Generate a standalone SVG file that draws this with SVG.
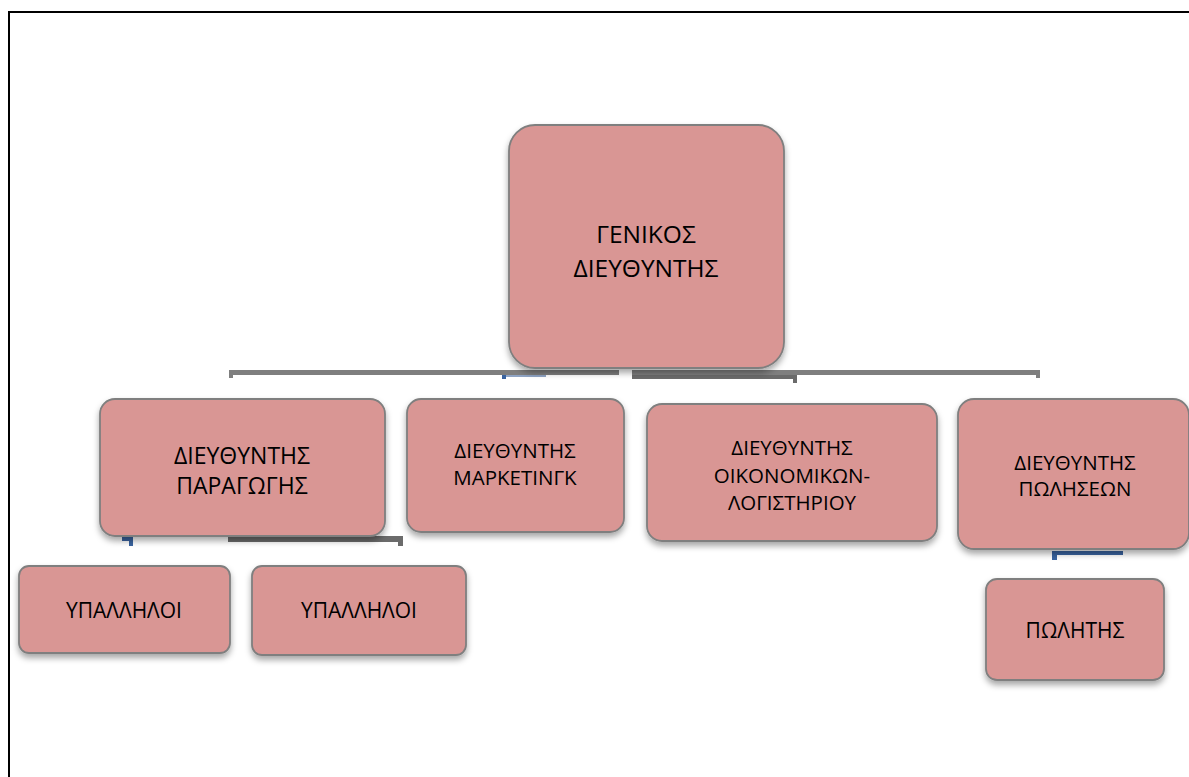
<svg xmlns="http://www.w3.org/2000/svg" width="1189" height="777" viewBox="0 0 1189 777">
<defs>
<filter id="sh" x="-10%" y="-10%" width="120%" height="130%">
<feDropShadow dx="0" dy="4" stdDeviation="3" flood-color="#000" flood-opacity="0.35"/>
</filter>
</defs>
<style>
.box{fill:#D99694;stroke:#7F7F7F;stroke-width:1.8;filter:url(#sh)}
.t{font-family:"Open Sans","Liberation Sans",sans-serif;fill:#000;text-anchor:middle;dominant-baseline:central}
.g{fill:#7F7F7F}
.d{fill:#6B6B6B}
.b{fill:#3A64A0}
</style>
<rect x="9" y="12" width="1200" height="800" fill="none" stroke="#000" stroke-width="2"/>
<g id="connectors">
<path class="g" d="M229,370 H619 V375 H233 V378 H229 Z"/>
<rect class="b" x="502" y="375" width="4" height="4"/>
<rect x="506" y="375" width="40" height="2" fill="#8FA4C4"/>
<path class="g" d="M632,370 H1040 V378 H1036 V375 H632 Z"/>
<path class="d" d="M632,375 H797 V383 H793 V379 H632 Z"/>
<path class="b" d="M122,537 H133 V546 H129 V541 H122 Z"/>
<path class="d" d="M228,536 H403 V546 H398 V542 H228 Z"/>
<path class="b" d="M1052,551 H1123 V555 H1057 V560 H1052 Z"/>
</g>
<g id="root">
<rect class="box" x="509" y="125" width="275" height="243" rx="26"/>
<text class="t" x="646" y="233" font-size="24.5">ΓΕΝΙΚΟΣ</text>
<text class="t" x="646" y="267" font-size="24.5">ΔΙΕΥΘΥΝΤΗΣ</text>
</g>
<g id="paragogis">
<rect class="box" x="100" y="399" width="285" height="137" rx="15"/>
<text class="t" x="242" y="455" font-size="23">ΔΙΕΥΘΥΝΤΗΣ</text>
<text class="t" x="242" y="485" font-size="23">ΠΑΡΑΓΩΓΗΣ</text>
</g>
<g id="marketing">
<rect class="box" x="407" y="399" width="217" height="133" rx="14"/>
<text class="t" x="515" y="450" font-size="20.5">ΔΙΕΥΘΥΝΤΗΣ</text>
<text class="t" x="515" y="477" font-size="20.5">ΜΑΡΚΕΤΙΝΓΚ</text>
</g>
<g id="oikonomikon">
<rect class="box" x="647" y="404" width="290" height="137" rx="15"/>
<text class="t" x="792" y="447" font-size="20.5">ΔΙΕΥΘΥΝΤΗΣ</text>
<text class="t" x="792" y="475" font-size="20.5">ΟΙΚΟΝΟΜΙΚΩΝ-</text>
<text class="t" x="792" y="502" font-size="20.5">ΛΟΓΙΣΤΗΡΙΟΥ</text>
</g>
<g id="poliseon">
<rect class="box" x="958" y="399" width="231" height="150" rx="16"/>
<text class="t" x="1075" y="462" font-size="20.5">ΔΙΕΥΘΥΝΤΗΣ</text>
<text class="t" x="1075" y="488" font-size="20.5">ΠΩΛΗΣΕΩΝ</text>
</g>
<g id="ypalliloi1">
<rect class="box" x="19" y="566" width="211" height="87" rx="10"/>
<text class="t" x="124" y="610" font-size="21">ΥΠΑΛΛΗΛΟΙ</text>
</g>
<g id="ypalliloi2">
<rect class="box" x="252" y="566" width="214" height="89" rx="10"/>
<text class="t" x="359" y="610" font-size="21">ΥΠΑΛΛΗΛΟΙ</text>
</g>
<g id="politis">
<rect class="box" x="986" y="579" width="178" height="101" rx="11"/>
<text class="t" x="1075" y="630" font-size="21">ΠΩΛΗΤΗΣ</text>
</g>
</svg>
